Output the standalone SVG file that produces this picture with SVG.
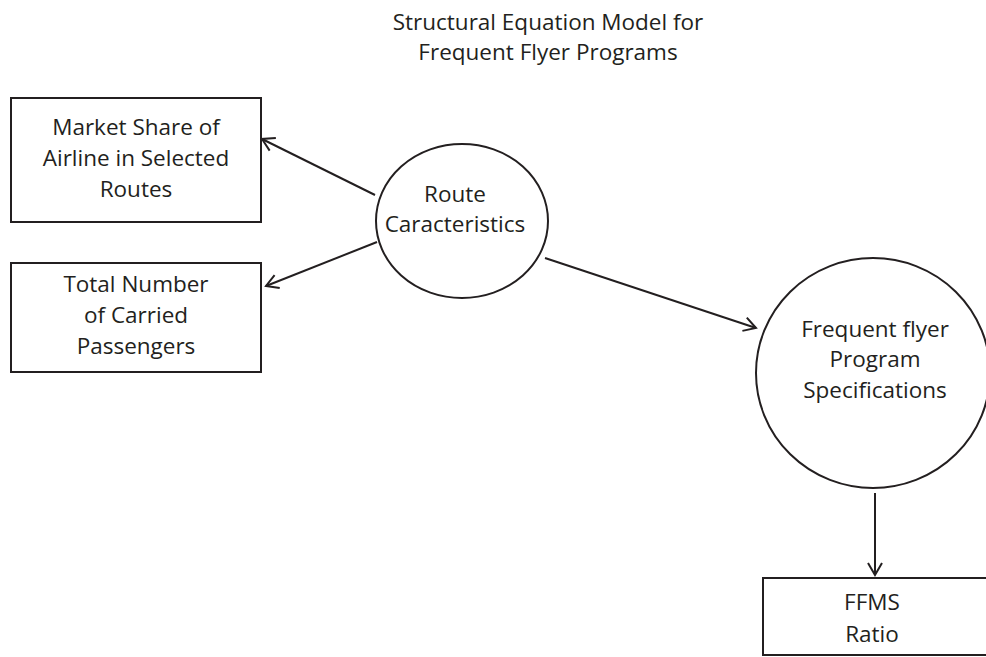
<svg xmlns="http://www.w3.org/2000/svg" width="986" height="657" viewBox="0 0 986 657">
<defs>
<style>
text{font-family:"Open Sans","Liberation Sans",sans-serif;font-size:22.5px;fill:#231f20;text-anchor:middle}
.box{fill:none;stroke:#231f20;stroke-width:2}
.conn{fill:none;stroke:#231f20;stroke-width:2}
</style>
<marker id="arr" markerUnits="userSpaceOnUse" markerWidth="18" markerHeight="18" viewBox="-15 -9 18 18" refX="0" refY="0" orient="auto">
<path d="M-12,-7 L0,0 L-12,7" fill="none" stroke="#231f20" stroke-width="2"/>
</marker>
</defs>
<rect width="986" height="657" fill="#ffffff"/>
<g id="title">
<text x="548" y="30">Structural Equation Model for</text>
<text x="548" y="60">Frequent Flyer Programs</text>
</g>
<g id="connectors">
<line class="conn" x1="375" y1="195" x2="262" y2="139" marker-end="url(#arr)"/>
<line class="conn" x1="377" y1="242" x2="266" y2="286" marker-end="url(#arr)"/>
<line class="conn" x1="545" y1="258" x2="756" y2="328" marker-end="url(#arr)"/>
<line class="conn" x1="875" y1="493" x2="875" y2="575" marker-end="url(#arr)"/>
</g>
<g id="market-share">
<rect class="box" x="11" y="98" width="250" height="124"/>
<text x="136" y="135">Market Share of</text>
<text x="136" y="166">Airline in Selected</text>
<text x="136" y="197">Routes</text>
</g>
<g id="total-passengers">
<rect class="box" x="11" y="263" width="250" height="109"/>
<text x="136" y="292">Total Number</text>
<text x="136" y="323">of Carried</text>
<text x="136" y="354">Passengers</text>
</g>
<g id="route">
<ellipse class="box" cx="462" cy="221" rx="86" ry="77"/>
<text x="455" y="202">Route</text>
<text x="455" y="232">Caracteristics</text>
</g>
<g id="ffp">
<ellipse class="box" cx="873" cy="373" rx="117" ry="115"/>
<text x="875" y="337">Frequent flyer</text>
<text x="875" y="367">Program</text>
<text x="875" y="398">Specifications</text>
</g>
<g id="ffms">
<rect class="box" x="763" y="578" width="240" height="77"/>
<text x="872" y="610">FFMS</text>
<text x="872" y="642">Ratio</text>
</g>
</svg>
